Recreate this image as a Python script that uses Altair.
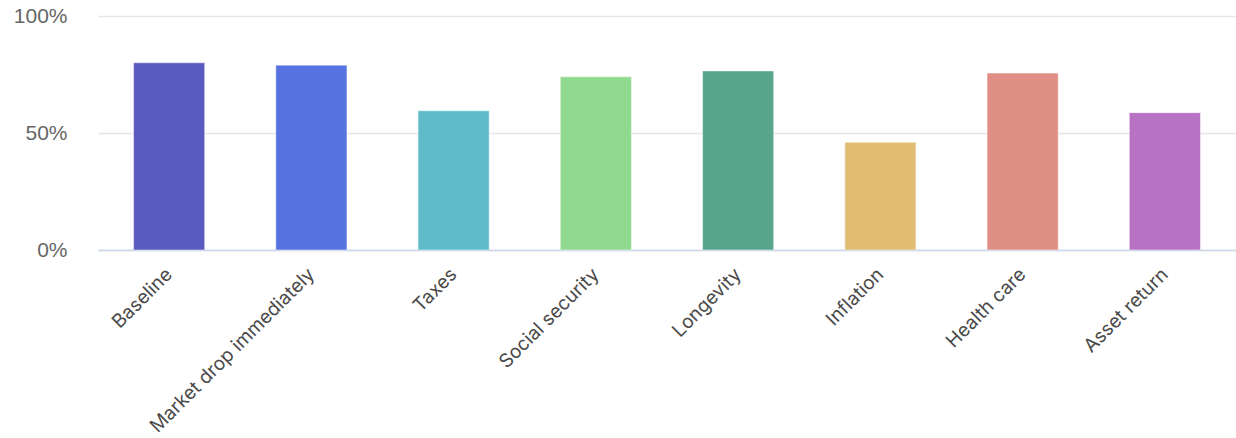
import altair as alt
import pandas as pd

categories = ["Baseline", "Market drop immediately", "Taxes", "Social security",
              "Longevity", "Inflation", "Health care", "Asset return"]
values = [0.80, 0.79, 0.595, 0.74, 0.765, 0.46, 0.756, 0.587]
colors = ["#5b5bbf", "#5773e0", "#5fbbc9", "#90d98e", "#57a68c", "#e0bd73", "#e08f84", "#b872c4"]

df = pd.DataFrame({"scenario": categories, "rate": values})

chart = alt.Chart(df).mark_bar(
    stroke="white", strokeWidth=1, strokeOpacity=0.45
).encode(
    x=alt.X("scenario:N", sort=categories,
            scale=alt.Scale(paddingInner=0.5, paddingOuter=0.25),
            axis=alt.Axis(title=None, labelAngle=-45, labelAlign="right", labelBaseline="middle",
                          labelFont="Inter", labelFontSize=19, labelColor="#4a4a4a",
                          ticks=False, labelPadding=21, domainColor="#ccd6eb", domainWidth=1.5,
                          grid=False, labelOverlap=False, labelLimit=400)),
    y=alt.Y("rate:Q", scale=alt.Scale(domain=[0, 1], nice=False),
            axis=alt.Axis(title=None, format=".0%", values=[0, 0.5, 1], ticks=False,
                          domain=False, labelFont="Liberation Sans", labelFontSize=21,
                          labelColor="#666666", labelPadding=31, gridColor="#e6e6e6",
                          gridWidth=1.5)),
    color=alt.Color("scenario:N", sort=categories,
                    scale=alt.Scale(domain=categories, range=colors), legend=None),
).properties(
    width=1138, height=234,
    autosize=alt.AutoSizeParams(type="none"),
    padding={"left": 98, "top": 16, "right": 0, "bottom": 188},
).configure_view(stroke=None)

chart.save("out.html", embed_options={"renderer": "svg", "actions": False})
